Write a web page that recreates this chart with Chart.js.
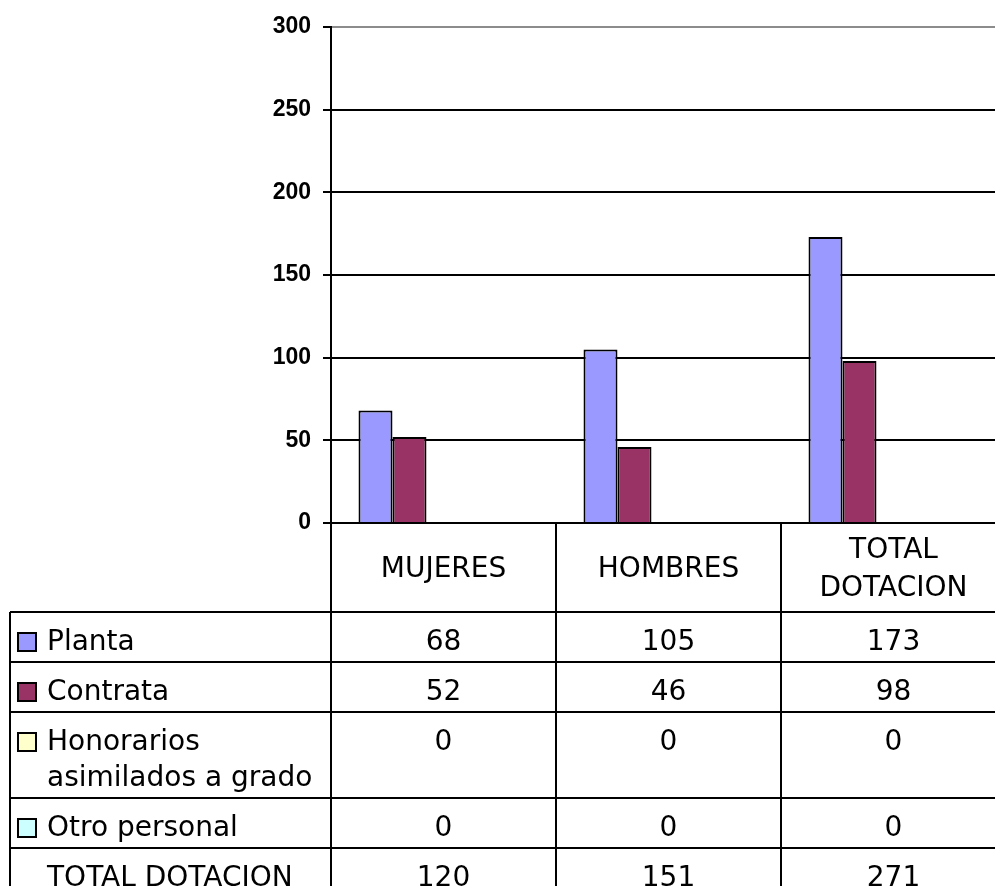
<!DOCTYPE html>
<html>
<head>
<meta charset="utf-8">
<script src="https://cdn.jsdelivr.net/npm/chart.js@4/dist/chart.umd.min.js"></script>
<style>
  html, body { margin: 0; padding: 0; background: #fff; }
  #wrap { width: 995px; height: 886px; overflow: hidden; position: relative; }
  canvas { display: block; }
</style>
</head>
<body>
<div id="wrap"><canvas id="c" width="1010" height="900"></canvas></div>
<script>
// ---- data ----
const categories = ['MUJERES', 'HOMBRES', 'TOTAL DOTACION'];
const planta = [68, 105, 173];
const contrata = [52, 46, 98];
const honorarios = [0, 0, 0];
const otroPersonal = [0, 0, 0];
const totalDotacion = [120, 151, 271];
const seriesNames = ['Planta', 'Contrata', 'Honorarios asimilados a grado', 'Otro personal', 'TOTAL DOTACION'];
const yTicks = [0, 50, 100, 150, 200, 250, 300];

const TABLE_FONT = '28px "DejaVu Sans"';

function wrap(ctx, text, maxW) {
  const words = text.split(' ');
  const lines = [];
  let cur = '';
  for (const w of words) {
    const t = cur ? cur + ' ' + w : w;
    if (cur && ctx.measureText(t).width > maxW) { lines.push(cur); cur = w; }
    else cur = t;
  }
  if (cur) lines.push(cur);
  return lines;
}

const tablePlugin = {
  id: 'dataTable',
  afterDraw(chart) {
    const { ctx, chartArea, scales } = chart;
    const x = scales.x;
    const n = categories.length;
    const half = (x.getPixelForValue(1) - x.getPixelForValue(0)) / 2;
    const bounds = [];
    for (let i = 0; i < n; i++) bounds.push(x.getPixelForValue(i) - half);
    bounds.push(x.getPixelForValue(n - 1) + half);
    const top = chartArea.bottom;
    const headerH = 89;
    const tableTop = top + headerH;
    const leftEdge = 10;
    const lineH = 36;

    ctx.save();
    ctx.font = TABLE_FONT;
    ctx.fillStyle = '#000';
    ctx.textBaseline = 'middle';
    ctx.textAlign = 'center';

    // header labels
    for (let i = 0; i < n; i++) {
      const colW = bounds[i + 1] - bounds[i];
      const lines = wrap(ctx, categories[i], colW - 24);
      const cx = x.getPixelForValue(i);
      const cy = top + headerH / 2 + 2;
      const start = cy - (lines.length - 1) * 38 / 2;
      lines.forEach((l, k) => ctx.fillText(l, cx, start + k * 38));
    }

    // rows
    const ds = chart.data.datasets;
    let rowTop = tableTop;
    const rowTops = [rowTop];
    ds.forEach((d, r) => {
      ctx.textAlign = 'left';
      const labelLines = wrap(ctx, d.label, bounds[0] - 47 - 8);
      const h = 50 + lineH * (labelLines.length - 1);
      // key
      if (d.showKey) {
        ctx.fillStyle = d.backgroundColor;
        ctx.fillRect(18, rowTop + 21, 18, 18);
        ctx.lineWidth = 2;
        ctx.strokeStyle = '#000';
        ctx.strokeRect(18, rowTop + 21, 18, 18);
      }
      ctx.fillStyle = '#000';
      labelLines.forEach((l, k) => ctx.fillText(l, 47, rowTop + 31 + k * lineH));
      ctx.textAlign = 'center';
      d.data.forEach((v, i) => {
        ctx.fillText(String(v), x.getPixelForValue(i), rowTop + 31);
      });
      rowTop += h;
      rowTops.push(rowTop);
    });

    // lines
    ctx.strokeStyle = '#000';
    ctx.lineWidth = 2;
    ctx.beginPath();
    for (let i = 0; i < bounds.length; i++) {
      ctx.moveTo(bounds[i], top);
      ctx.lineTo(bounds[i], rowTop);
    }
    ctx.moveTo(leftEdge, tableTop);
    ctx.lineTo(leftEdge, rowTop);
    rowTops.forEach(y => {
      ctx.moveTo(leftEdge, y);
      ctx.lineTo(bounds[bounds.length - 1], y);
    });
    ctx.stroke();
    ctx.restore();
  }
};

const mk = (label, data, color, showKey) => ({
  label, data,
  backgroundColor: color,
  borderColor: showKey ? '#000' : 'rgba(0,0,0,0)',
  borderWidth: showKey ? 2 : 0,
  showKey
});

new Chart(document.getElementById('c'), {
  type: 'bar',
  data: {
    labels: categories,
    datasets: [
      mk(seriesNames[0], planta, '#9999FF', true),
      mk(seriesNames[1], contrata, '#993366', true),
      mk(seriesNames[2], honorarios, '#FFFFCC', true),
      mk(seriesNames[3], otroPersonal, '#CCFFFF', true),
      mk(seriesNames[4], totalDotacion, 'rgba(0,0,0,0)', false)
    ]
  },
  options: {
    responsive: false,
    animation: false,
    devicePixelRatio: 1,
    layout: { padding: { top: 27, bottom: 377, left: 0, right: 4 } },
    plugins: { legend: { display: false }, tooltip: { enabled: false }, title: { display: false } },
    datasets: { bar: { categoryPercentage: 0.7556, barPercentage: 1.0 } },
    scales: {
      x: { display: false, grid: { display: false } },
      y: {
        min: 0, max: 300,
        afterFit(scale) { scale.width = 331; },
        afterBuildTicks(scale) { scale.ticks = yTicks.map(v => ({ value: v })); },
        border: { display: true, color: '#000', width: 2 },
        grid: {
          color: c => (c.tick && c.tick.value === 300) ? '#8c8c8c' : '#000',
          lineWidth: 2,
          tickLength: 8,
          tickColor: '#000',
          drawTicks: true
        },
        ticks: {
          padding: 12,
          color: '#000',
          font: { family: '"Liberation Sans", Arial, sans-serif', size: 23, weight: 'bold' }
        }
      }
    }
  },
  plugins: [tablePlugin]
});
</script>
</body>
</html>
